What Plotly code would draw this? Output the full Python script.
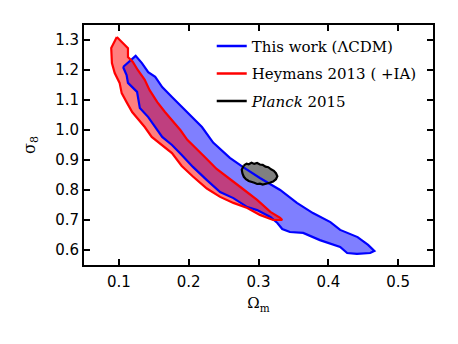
"""Omega_m - sigma_8 constraint contours."""

import plotly.graph_objects as go

# This work (LCDM) contour, closed outline
this_work_om = [
    0.106, 0.124, 0.133, 0.142, 0.152, 0.162, 0.176, 0.190, 0.205, 0.219,
    0.235, 0.259, 0.278, 0.302, 0.331, 0.355, 0.378, 0.403, 0.417, 0.442,
    0.457, 0.466, 0.460, 0.441, 0.427, 0.417, 0.388, 0.364, 0.345, 0.334,
    0.327, 0.317, 0.298, 0.284, 0.264, 0.245, 0.226, 0.206, 0.190, 0.176,
    0.162, 0.155, 0.142, 0.130, 0.127, 0.126, 0.113, 0.111, 0.106,
]
this_work_s8 = [
    1.210, 1.247, 1.223, 1.193, 1.177, 1.143, 1.110, 1.077, 1.043, 1.010,
    0.958, 0.907, 0.876, 0.840, 0.800, 0.757, 0.723, 0.693, 0.667, 0.643,
    0.617, 0.597, 0.590, 0.587, 0.590, 0.610, 0.633, 0.657, 0.660, 0.670,
    0.690, 0.710, 0.733, 0.743, 0.773, 0.793, 0.833, 0.877, 0.917, 0.950,
    0.977, 1.000, 1.043, 1.073, 1.110, 1.127, 1.157, 1.183, 1.210,
]

# Heymans 2013 (+IA) contour
heymans_om = [
    0.097, 0.104, 0.113, 0.113, 0.120, 0.127, 0.137, 0.144, 0.155, 0.166,
    0.176, 0.188, 0.198, 0.209, 0.223, 0.240, 0.259, 0.274, 0.298, 0.317,
    0.331, 0.334, 0.321, 0.302, 0.284, 0.264, 0.245, 0.226, 0.206, 0.190,
    0.176, 0.162, 0.147, 0.137, 0.126, 0.119, 0.111, 0.104, 0.101, 0.094,
    0.090, 0.089, 0.097,
]
heymans_s8 = [
    1.310, 1.293, 1.273, 1.243, 1.227, 1.200, 1.167, 1.133, 1.093, 1.060,
    1.033, 1.000, 0.967, 0.943, 0.910, 0.870, 0.835, 0.810, 0.767, 0.727,
    0.707, 0.700, 0.700, 0.717, 0.740, 0.757, 0.777, 0.805, 0.845, 0.880,
    0.923, 0.950, 0.977, 1.010, 1.040, 1.060, 1.093, 1.123, 1.157, 1.190,
    1.223, 1.273, 1.310,
]

# Planck 2015 contour (bumpy outline)
planck_om = [
    0.279, 0.283, 0.286, 0.290, 0.294, 0.298, 0.302, 0.306, 0.310, 0.314,
    0.318, 0.322, 0.325, 0.327, 0.325, 0.321, 0.316, 0.311, 0.306, 0.302,
    0.298, 0.294, 0.290, 0.286, 0.282, 0.279, 0.277, 0.276, 0.279,
]
planck_s8 = [
    0.882, 0.888, 0.886, 0.891, 0.887, 0.890, 0.885, 0.884, 0.878, 0.876,
    0.869, 0.864, 0.856, 0.846, 0.836, 0.828, 0.824, 0.820, 0.818, 0.821,
    0.820, 0.824, 0.826, 0.830, 0.836, 0.844, 0.855, 0.868, 0.882,
]

x_ticks = [0.1, 0.2, 0.3, 0.4, 0.5]
y_ticks = [0.6, 0.7, 0.8, 0.9, 1.0, 1.1, 1.2, 1.3]

SERIF = "DejaVu Serif, Liberation Serif, serif"

fig = go.Figure()

# fills first, outlines on top
fig.add_trace(go.Scatter(x=this_work_om, y=this_work_s8, mode="none", fill="toself",
                         fillcolor="rgba(0,0,255,0.5)", showlegend=False, hoverinfo="skip"))
fig.add_trace(go.Scatter(x=heymans_om, y=heymans_s8, mode="none", fill="toself",
                         fillcolor="rgba(255,0,0,0.5)", showlegend=False, hoverinfo="skip"))
fig.add_trace(go.Scatter(x=planck_om, y=planck_s8, mode="none", fill="toself",
                         fillcolor="rgb(128,128,128)", showlegend=False, hoverinfo="skip"))
fig.add_trace(go.Scatter(x=this_work_om, y=this_work_s8, mode="lines",
                         line=dict(color="blue", width=2.2), showlegend=False))
fig.add_trace(go.Scatter(x=heymans_om, y=heymans_s8, mode="lines",
                         line=dict(color="red", width=2.2), showlegend=False))
fig.add_trace(go.Scatter(x=planck_om, y=planck_s8, mode="lines",
                         line=dict(color="black", width=2.2), showlegend=False))

# line-only legend entries
legend_items = [
    ("This work (ΛCDM)", "blue"),
    ("Heymans 2013 ( +IA)", "red"),
    ("<i>Planck</i> 2015", "black"),
]
for i, (name, color) in enumerate(legend_items):
    fig.add_trace(go.Scatter(x=[None], y=[None], mode="lines", name=name,
                             legendgroup=str(i), line=dict(color=color, width=2.5)))

axis_common = dict(
    showgrid=False, zeroline=False, showline=True, linecolor="black", linewidth=1.8,
    mirror="ticks", ticks="inside", ticklen=6, tickwidth=1.5, tickcolor="black",
    tickfont=dict(family="DejaVu Sans", size=15, color="black"),
    automargin=False,
)

# the page body adds an 8px offset, margins are set to compensate
fig.update_layout(
    width=458, height=344,
    margin=dict(l=76, r=33, t=17, b=87),
    paper_bgcolor="white", plot_bgcolor="white",
    xaxis=dict(range=[0.05, 0.55], tickvals=x_ticks, ticktext=[f"{v:.1f}" for v in x_ticks],
               ticklabelstandoff=2,
               title=dict(text="Ω<sub>m</sub>", font=dict(family=SERIF, size=15, color="black"),
                          standoff=8),
               **axis_common),
    yaxis=dict(range=[0.55, 1.35], tickvals=y_ticks, ticktext=[f"{v:.1f}" for v in y_ticks],
               ticklabelstandoff=0,
               title=dict(text="σ<sub>8</sub>", font=dict(family=SERIF, size=16, color="black"),
                          standoff=16),
               **axis_common),
    legend=dict(x=0.366, y=0.98, xanchor="left", yanchor="top",
                bgcolor="rgba(0,0,0,0)", borderwidth=0, tracegroupgap=5,
                traceorder="grouped",
                font=dict(family=SERIF, size=15, color="black")),
    showlegend=True,
)

fig.write_html("out.html")
